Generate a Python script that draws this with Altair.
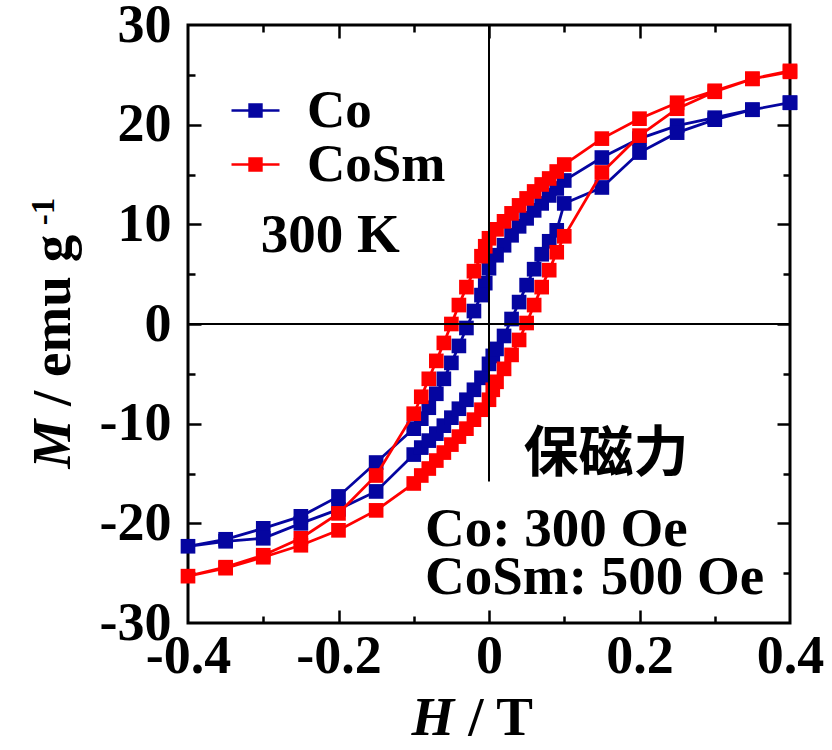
import altair as alt
import pandas as pd

# ---------------- data ----------------
SERIES = ["Co", "CoSm"]
COLORS = ["#0505A0", "#FF0000"]

# field sweep +0.4 -> -0.4 (descending branch)
H_DESC = [0.4, 0.35, 0.3, 0.25, 0.2, 0.15, 0.1, 0.09, 0.08, 0.07, 0.06, 0.05, 0.04,
          0.03, 0.02, 0.01, 0.0, -0.005, -0.01, -0.02, -0.03, -0.04, -0.05, -0.06,
          -0.07, -0.08, -0.09, -0.1, -0.15, -0.2, -0.25, -0.3, -0.35, -0.4]
# field sweep -0.4 -> +0.4 (ascending branch)
H_ASC = [-0.4, -0.35, -0.3, -0.25, -0.2, -0.15, -0.1, -0.09, -0.08, -0.07, -0.06,
         -0.05, -0.04, -0.03, -0.02, -0.01, 0.0, 0.005, 0.01, 0.02, 0.03, 0.04, 0.05,
         0.06, 0.07, 0.08, 0.09, 0.1, 0.15, 0.2, 0.25, 0.3, 0.35, 0.4]

CO_DESC = [22.2, 21.5, 20.7, 19.9, 18.6, 16.7, 14.4, 13.6, 12.9, 12.1, 11.4, 10.6, 9.8,
           8.9, 7.9, 6.9, 5.6, 4.1, 2.9, 1.3, -0.4, -2.2, -3.9, -5.5,
           -7.0, -8.4, -9.5, -10.5, -13.9, -17.3, -19.3, -20.5, -21.6, -22.3]
CO_ASC = [-22.3, -21.8, -21.5, -20.0, -18.6, -16.8, -13.1, -12.4, -11.7, -11.0, -10.2,
          -9.4, -8.5, -7.6, -6.6, -5.4, -4.0, -3.2, -2.5, -1.2, 0.5, 2.2, 3.9,
          5.5, 7.0, 8.3, 9.4, 12.1, 13.7, 17.2, 19.2, 20.5, 21.5, 22.2]

COSM_DESC = [25.3, 24.6, 23.4, 22.2, 20.6, 18.6, 16.0, 15.3, 14.6, 14.0, 13.3, 12.6, 11.9,
             11.1, 10.3, 9.5, 8.6, 7.8, 6.8, 5.3, 3.7, 1.9, 0.0, -1.9,
             -3.7, -5.5, -7.3, -9.0, -15.2, -19.0, -21.5, -23.2, -24.4, -25.3]
COSM_ASC = [-25.3, -24.5, -23.4, -22.2, -20.7, -18.7, -16.0, -15.2, -14.5, -13.7, -12.9,
            -12.1, -11.3, -10.5, -9.6, -8.6, -7.6, -6.6, -5.8, -4.5, -3.1, -1.6, 0.1,
            1.9, 3.7, 5.4, 7.2, 8.8, 15.2, 18.9, 21.6, 23.3, 24.6, 25.4]

X_LABELS = [-0.4, -0.2, 0, 0.2, 0.4]
X_MAJOR = [-0.2, 0, 0.2]
X_MINOR = [-0.3, -0.1, 0.1, 0.3]
Y_LABELS = [30, 20, 10, 0, -10, -20, -30]
Y_MAJOR = [20, 10, 0, -10, -20]
Y_MINOR = [25, 15, 5, -5, -15, -25]

# zero lines: horizontal M=0 across, vertical H=0 from top down to M=-15.8
ZERO_V = [30, -15.8]

ZW = "\u200b"  # keeps the leading space from being trimmed
# annotations: text, H, M
ANN_SERIF = [("300 K", -0.211, 7.2, "center"),
             ("Co: 300 Oe", -0.085, -22.3, "left"),
             ("CoSm: 500 Oe", -0.085, -27.1, "left")]
ANN_CJK = [("保磁力", 0.1555, -13.0)]
X_TITLE = [("H", ZW + " / T", -0.046, -41.2)]
Y_TITLE = [("M", ZW + " / emu g", -0.557, -9.6)]
Y_SUP = [("-1", -0.578, 9.9)]

# ---------------- build tables ----------------
rows = []
for name, hd, md, ha, ma in [("Co", H_DESC, CO_DESC, H_ASC, CO_ASC),
                             ("CoSm", H_DESC, COSM_DESC, H_ASC, COSM_ASC)]:
    i = 0
    for h, m in list(zip(hd, md)) + list(zip(ha, ma))[1:]:
        rows.append({"sample": name, "H": h, "M": m, "idx": i})
        i += 1
df = pd.DataFrame(rows)

W, HH = 602, 598
FONT = "Liberation Serif"
FS = 55
LFS = 54
xs = alt.Scale(domain=[-0.4, 0.4], nice=False, zero=False)
ys = alt.Scale(domain=[-30, 30], nice=False, zero=False)
cscale = alt.Scale(domain=SERIES, range=COLORS)

X_AX = alt.Axis(values=X_LABELS, orient="bottom", ticks=False, domain=False, grid=False,
                labelFont=FONT, labelFontSize=LFS, labelFontWeight="bold", labelColor="black",
                labelPadding=6, labelFlush=False, labelOverlap=False, labelBound=False,
                labelExpr="'' + datum.value", title=None)
Y_AX = alt.Axis(values=Y_LABELS, orient="left", ticks=False, domain=False, grid=False,
                labelFont=FONT, labelFontSize=LFS, labelFontWeight="bold", labelColor="black",
                labelPadding=17, labelFlush=False, labelOverlap=False, labelBound=False,
                labelExpr="'' + datum.value", title=None)
XN = alt.X("H:Q", scale=xs, axis=None)
YN = alt.Y("M:Q", scale=ys, axis=None)

PATH = ("M-1,-0.055H1V0.055H-1Z "
        "M-0.3,-0.3H0.3V0.3H-0.3Z")
LEG = alt.Legend(title=None, orient="none", legendX=41, legendY=59, symbolType=PATH,
                 symbolSize=2304, symbolStrokeWidth=0, symbolOpacity=1,
                 labelFont=FONT, labelFontSize=53, labelFontWeight="bold",
                 labelColor="black", labelOffset=25, rowPadding=-10, padding=0)

layers = []
# first layer carries the labelled axes (invisible points)
layers.append(alt.Chart(df).mark_point(opacity=0).encode(
    x=alt.X("H:Q", scale=xs, axis=X_AX), y=alt.Y("M:Q", scale=ys, axis=Y_AX)))

for name, col in zip(SERIES, COLORS):
    sub = alt.Chart(df).transform_filter(alt.datum.sample == name)
    layers.append(sub.mark_line(strokeWidth=2.8, color=col).encode(
        x=XN, y=YN, order=alt.Order("idx:Q")))
    layers.append(sub.mark_point(shape="square", filled=True, size=215, opacity=1,
                                 strokeWidth=0).encode(
        x=XN, y=YN, color=alt.Color("sample:N", scale=cscale, legend=LEG)))

hline = pd.DataFrame({"H": [X_LABELS[0]], "H2": [X_LABELS[-1]], "M": [0]})
vline = pd.DataFrame({"H": [0], "M": [ZERO_V[0]], "M2": [ZERO_V[1]]})
layers.append(alt.Chart(hline).mark_rule(color="black", strokeWidth=2).encode(
    x=XN, x2="H2:Q", y=YN))
layers.append(alt.Chart(vline).mark_rule(color="black", strokeWidth=2).encode(
    x=XN, y=YN, y2="M2:Q"))

ann = pd.DataFrame([{"t": t, "H": h, "M": m, "a": a} for t, h, m, a in ANN_SERIF])
for a in ["center", "left"]:
    layers.append(alt.Chart(ann[ann["a"] == a]).mark_text(
        font=FONT, fontSize=FS, fontWeight="bold", color="black", align=a,
        baseline="alphabetic").encode(x=XN, y=YN, text="t:N"))

cjk = pd.DataFrame([{"t": t, "H": h, "M": m} for t, h, m in ANN_CJK])
layers.append(alt.Chart(cjk).mark_text(
    font="Noto Sans CJK JP", fontSize=55, fontWeight="bold", color="black",
    align="center", baseline="middle").encode(x=XN, y=YN, text="t:N"))

xt = pd.DataFrame([{"a": a, "b": b, "H": h, "M": m} for a, b, h, m in X_TITLE])
layers.append(alt.Chart(xt).mark_text(
    font=FONT, fontSize=FS, fontWeight="bold", fontStyle="italic", color="black",
    align="right", baseline="alphabetic").encode(x=XN, y=YN, text="a:N"))
layers.append(alt.Chart(xt).mark_text(
    font=FONT, fontSize=FS, fontWeight="bold", color="black",
    align="left", baseline="alphabetic").encode(x=XN, y=YN, text="b:N"))

yt = pd.DataFrame([{"a": a, "b": b, "H": h, "M": m} for a, b, h, m in Y_TITLE])
layers.append(alt.Chart(yt).mark_text(
    font=FONT, fontSize=FS, fontWeight="bold", fontStyle="italic", color="black",
    align="right", baseline="alphabetic", angle=270).encode(x=XN, y=YN, text="a:N"))
layers.append(alt.Chart(yt).mark_text(
    font=FONT, fontSize=FS, fontWeight="bold", color="black",
    align="left", baseline="alphabetic", angle=270).encode(x=XN, y=YN, text="b:N"))
ys_df = pd.DataFrame([{"t": t, "H": h, "M": m} for t, h, m in Y_SUP])
layers.append(alt.Chart(ys_df).mark_text(
    font=FONT, fontSize=33, fontWeight="bold", color="black",
    align="left", baseline="alphabetic", angle=270).encode(x=XN, y=YN, text="t:N"))


def tick_layer(xvals, xorient, yvals, yorient, size):
    return alt.Chart(df).mark_point(opacity=0).encode(
        x=alt.X("H:Q", scale=xs, axis=alt.Axis(
            values=xvals, orient=xorient, offset=-HH, labels=False, domain=False,
            grid=False, ticks=True, tickSize=size, tickWidth=2.5, tickColor="black",
            title=None)),
        y=alt.Y("M:Q", scale=ys, axis=alt.Axis(
            values=yvals, orient=yorient, offset=-W, labels=False, domain=False,
            grid=False, ticks=True, tickSize=size, tickWidth=2.5, tickColor="black",
            title=None)),
    )


layers += [
    tick_layer(X_MAJOR, "top", Y_MAJOR, "right", 13),
    tick_layer(X_MINOR, "top", Y_MINOR, "right", 7),
    tick_layer(X_MAJOR, "bottom", Y_MAJOR, "left", 13),
    tick_layer(X_MINOR, "bottom", Y_MINOR, "left", 7),
]

chart = alt.layer(*layers).resolve_axis(
    x="independent", y="independent"
).properties(
    width=W, height=HH,
    padding={"left": 188, "top": 25, "right": 42, "bottom": 127},
    autosize=alt.AutoSizeParams(type="none"),
    background="white",
).configure_view(stroke="black", strokeWidth=3)

chart.save("out.html", embed_options={"renderer": "svg", "actions": False})
